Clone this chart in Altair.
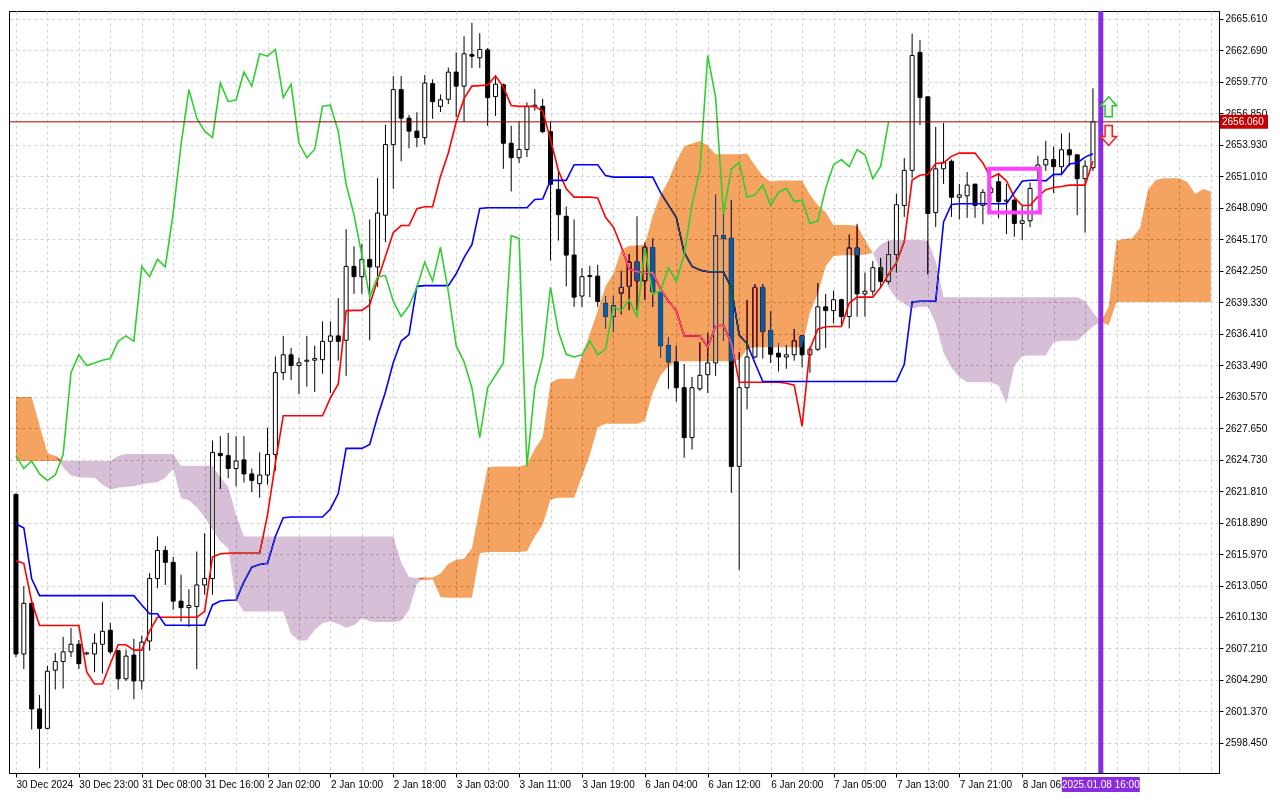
import json
import altair as alt
import pandas as pd

FONT = "Liberation Sans"

# ---------------- data ----------------
opens = [2621.5, 2606.7, 2611.4, 2601.6, 2599.8, 2605.2, 2606.0, 2606.9, 2607.6, 2606.7,
         2606.7, 2607.6, 2608.9, 2607.0, 2604.4, 2606.6, 2604.2, 2607.9, 2613.7, 2616.3,
         2615.2, 2611.6, 2611.0, 2611.1, 2613.1, 2613.7, 2625.3, 2625.1, 2623.9, 2624.7,
         2623.4, 2622.5, 2623.3, 2625.2, 2632.8, 2634.45, 2633.45, 2633.85, 2633.95, 2634.0,
         2635.7, 2636.2, 2635.8, 2642.65, 2641.7, 2643.3, 2642.6, 2647.4, 2653.95, 2659.05,
         2656.4, 2655.2, 2654.6, 2659.6, 2657.5, 2658.15, 2660.67, 2659.37, 2662.3, 2662.0,
         2662.73, 2658.4, 2659.5, 2654.07, 2652.73, 2653.5, 2657.5, 2657.5, 2655.15, 2649.8,
         2647.3, 2643.7, 2639.9, 2641.7, 2641.75, 2639.2, 2638.0, 2640.17, 2640.8, 2643.1,
         2641.3, 2644.4, 2640.3, 2635.3, 2633.8, 2631.4, 2626.77, 2631.3, 2632.6, 2633.7,
         2645.5, 2645.25, 2624.1, 2631.4, 2634.25, 2640.7, 2636.7, 2634.6, 2634.25, 2634.45,
         2636.2, 2634.45, 2634.96, 2638.9, 2638.55, 2639.56, 2638.0, 2644.36, 2640.1, 2640.35,
         2642.53, 2641.26, 2643.75, 2648.3, 2651.56, 2662.5, 2658.38, 2647.64, 2651.7, 2652.4,
         2649.06, 2649.2, 2650.28, 2648.31, 2649.5, 2650.5, 2648.7, 2648.8, 2646.64, 2646.88,
         2651.6, 2652.06, 2652.56, 2651.9, 2653.47, 2653.0, 2650.79, 2651.8]
highs = [2621.6, 2613.0, 2611.6, 2602.9, 2605.6, 2606.8, 2608.3, 2609.1, 2608.0, 2606.9,
         2608.6, 2611.5, 2609.6, 2607.1, 2607.1, 2608.1, 2608.4, 2614.2, 2617.6, 2616.7,
         2615.7, 2614.05, 2612.7, 2616.2, 2617.9, 2626.5, 2626.9, 2627.2, 2626.9, 2626.9,
         2623.9, 2625.4, 2627.7, 2634.3, 2636.2, 2635.1, 2634.2, 2636.2, 2635.3, 2637.55,
         2637.55, 2639.7, 2646.1, 2644.5, 2644.75, 2647.0, 2650.85, 2655.8, 2660.3, 2660.3,
         2656.7, 2656.95, 2660.4, 2660.0, 2658.6, 2661.1, 2662.5, 2664.0, 2665.25, 2664.28,
         2662.9, 2660.4, 2659.6, 2655.7, 2656.05, 2657.87, 2659.1, 2658.2, 2656.05, 2651.5,
         2648.2, 2647.0, 2642.5, 2642.7, 2642.8, 2639.9, 2639.9, 2642.25, 2643.8, 2647.3,
         2644.9, 2645.25, 2640.5, 2636.1, 2635.3, 2633.6, 2632.4, 2635.6, 2636.5, 2649.3,
         2647.5, 2648.8, 2634.7, 2639.55, 2641.0, 2641.0, 2638.5, 2635.5, 2635.35, 2636.85,
         2636.25, 2635.2, 2641.1, 2640.1, 2640.4, 2639.65, 2645.6, 2646.6, 2642.08, 2643.14,
         2643.44, 2644.96, 2649.37, 2652.7, 2664.24, 2663.63, 2658.4, 2655.6, 2655.95, 2652.56,
         2650.3, 2651.4, 2650.3, 2649.83, 2650.3, 2651.3, 2650.3, 2648.9, 2648.3, 2650.43,
         2652.92, 2654.3, 2653.77, 2654.98, 2655.05, 2653.0, 2652.5, 2659.17]
lows = [2606.4, 2605.3, 2599.7, 2596.1, 2599.7, 2603.4, 2603.5, 2606.4, 2605.3, 2606.6,
        2605.0, 2604.9, 2606.7, 2603.4, 2604.2, 2602.5, 2603.4, 2607.0, 2612.8, 2613.1,
        2610.8, 2609.7, 2609.2, 2605.3, 2612.2, 2612.2, 2622.0, 2623.0, 2622.25, 2622.6,
        2621.7, 2621.2, 2622.4, 2623.7, 2632.1, 2632.1, 2630.8, 2631.5, 2631.0, 2632.7,
        2630.9, 2633.9, 2632.5, 2640.1, 2640.1, 2635.8, 2640.75, 2644.9, 2649.85, 2652.4,
        2653.6, 2653.7, 2653.95, 2656.34, 2656.96, 2657.7, 2656.5, 2656.05, 2661.05, 2661.05,
        2655.7, 2656.6, 2651.7, 2649.6, 2652.25, 2652.8, 2657.1, 2655.0, 2643.2, 2645.04,
        2640.8, 2638.9, 2638.9, 2639.8, 2638.9, 2636.9, 2636.55, 2638.2, 2638.6, 2638.6,
        2639.55, 2638.9, 2634.2, 2631.3, 2630.1, 2624.9, 2625.66, 2631.1, 2630.9, 2632.5,
        2635.75, 2621.65, 2614.5, 2629.4, 2634.1, 2634.1, 2633.7, 2632.9, 2633.15, 2633.9,
        2633.3, 2632.8, 2634.8, 2635.1, 2637.37, 2637.2, 2636.9, 2637.98, 2637.98, 2639.95,
        2640.7, 2641.0, 2642.08, 2647.24, 2650.88, 2655.75, 2641.9, 2646.3, 2650.3, 2647.24,
        2647.0, 2647.15, 2647.15, 2646.55, 2648.6, 2647.1, 2645.64, 2645.4, 2645.1, 2646.3,
        2650.74, 2651.5, 2649.46, 2651.2, 2651.95, 2647.4, 2645.78, 2651.5]
closes = [2606.7, 2611.4, 2601.6, 2599.8, 2605.1, 2606.0, 2606.9, 2607.6, 2605.8, 2606.8,
          2607.7, 2608.8, 2606.9, 2604.4, 2606.5, 2604.2, 2607.8, 2613.7, 2616.3, 2615.2,
          2611.6, 2611.0, 2611.2, 2613.1, 2613.7, 2625.4, 2625.1, 2623.9, 2624.6, 2623.4,
          2622.8, 2623.3, 2625.2, 2632.8, 2634.45, 2633.45, 2633.7, 2633.95, 2634.1, 2635.7,
          2636.2, 2635.7, 2642.65, 2641.7, 2643.3, 2642.6, 2647.6, 2653.95, 2659.05, 2656.4,
          2655.2, 2654.6, 2659.66, 2657.93, 2658.1, 2660.67, 2659.37, 2662.37, 2662.15, 2662.77,
          2658.3, 2659.55, 2654.07, 2652.73, 2653.5, 2657.5, 2657.6, 2655.15, 2650.27, 2647.45,
          2643.7, 2639.8, 2641.7, 2641.8, 2639.4, 2638.0, 2639.0, 2640.7, 2643.05, 2641.3,
          2644.43, 2640.3, 2635.3, 2633.8, 2631.4, 2626.77, 2631.4, 2632.55, 2633.7, 2645.5,
          2645.25, 2624.1, 2631.4, 2634.25, 2640.7, 2636.6, 2634.5, 2634.25, 2634.45, 2635.75,
          2634.45, 2634.96, 2638.9, 2638.55, 2639.56, 2638.0, 2644.36, 2640.1, 2640.35, 2642.53,
          2641.26, 2643.75, 2648.37, 2651.56, 2662.21, 2658.32, 2647.55, 2651.7, 2652.3, 2649.06,
          2649.28, 2650.19, 2648.31, 2649.52, 2649.9, 2648.67, 2648.8, 2646.64, 2646.88, 2649.88,
          2652.06, 2652.56, 2651.9, 2653.47, 2653.0, 2650.79, 2651.95, 2656.06]

tenkan = [2615.35, 2615.11, 2611.56, 2609.34, 2609.34, 2609.34, 2609.34, 2609.34, 2609.34, 2605.03,
          2603.91, 2603.91, 2605.79, 2607.55, 2607.55, 2607.06, 2607.06, 2608.83, 2610.1, 2610.1,
          2610.1, 2610.1, 2610.1, 2610.1, 2610.65, 2615.7, 2616.0, 2616.05, 2616.05, 2616.05,
          2616.05, 2616.05, 2619.6, 2624.4, 2628.8, 2628.8, 2628.8, 2628.8, 2628.8, 2628.8,
          2630.45, 2631.75, 2638.55, 2638.57, 2638.57, 2639.1, 2641.38, 2643.56, 2645.79, 2646.44,
          2646.44, 2648.0, 2648.18, 2648.18, 2651.0, 2653.17, 2656.05, 2658.21, 2659.37, 2659.42,
          2659.48, 2660.31, 2659.3, 2657.57, 2657.49, 2657.49, 2657.49, 2657.06, 2654.42, 2651.53,
          2649.85, 2649.08, 2649.08, 2649.08, 2649.0, 2647.21, 2646.3, 2644.49, 2642.4, 2642.15,
          2642.1, 2642.05, 2640.56, 2639.41, 2638.55, 2636.2, 2636.2, 2636.2, 2635.16, 2637.14,
          2637.19, 2635.55, 2631.9, 2631.9, 2631.9, 2631.9, 2631.9, 2631.9, 2631.81, 2631.63,
          2627.84, 2635.0, 2636.82, 2637.05, 2637.07, 2637.07, 2639.25, 2639.8, 2639.8, 2639.8,
          2640.71, 2641.92, 2642.99, 2644.96, 2650.67, 2651.1, 2651.19, 2652.19, 2652.25, 2652.86,
          2653.16, 2653.16, 2653.16, 2652.25, 2650.88, 2651.24, 2650.58, 2649.06, 2648.3, 2648.3,
          2649.12, 2649.76, 2649.97, 2650.06, 2650.19, 2650.19, 2650.19, 2652.4]

kijun = [2618.78, 2618.39, 2613.68, 2612.11, 2612.11, 2612.11, 2612.11, 2612.11, 2612.11, 2612.11,
         2612.11, 2612.11, 2612.11, 2612.11, 2612.11, 2612.11, 2611.25, 2610.43, 2610.43, 2609.37,
         2609.37, 2609.37, 2609.37, 2609.37, 2609.37, 2611.25, 2611.62, 2611.68, 2611.71, 2613.38,
         2614.75, 2615.0, 2615.11, 2617.6, 2619.33, 2619.4, 2619.4, 2619.4, 2619.4, 2619.4,
         2620.15, 2621.58, 2625.77, 2625.77, 2625.77, 2626.14, 2628.72, 2631.0, 2633.73, 2635.73,
         2636.32, 2640.8, 2640.87, 2640.87, 2640.87, 2640.87, 2641.97, 2643.47, 2644.66, 2648.03,
         2648.09, 2648.09, 2648.09, 2648.09, 2648.09, 2648.09, 2648.85, 2648.9, 2650.63, 2650.63,
         2650.63, 2652.08, 2652.08, 2652.08, 2652.08, 2651.07, 2650.93, 2650.93, 2650.93, 2650.93,
         2650.93, 2650.93, 2649.5, 2648.34, 2647.21, 2643.94, 2642.65, 2642.32, 2642.15, 2642.15,
         2642.15, 2640.68, 2636.29, 2635.48, 2633.69, 2631.97, 2631.97, 2631.97, 2631.97, 2631.97,
         2631.97, 2631.97, 2631.97, 2631.97, 2631.97, 2631.97, 2631.97, 2631.97, 2631.97, 2631.97,
         2631.97, 2631.97, 2631.97, 2633.57, 2639.35, 2639.42, 2639.42, 2639.44, 2646.78, 2648.39,
         2648.46, 2648.46, 2648.46, 2648.46, 2648.46, 2648.46, 2648.46, 2649.51, 2650.55, 2650.64,
         2650.64, 2650.58, 2651.19, 2651.19, 2652.15, 2652.25, 2652.79, 2653.1]

chikou = [2625.1, 2623.9, 2624.6, 2623.4, 2622.8, 2623.3, 2625.2, 2632.8, 2634.45, 2633.45,
          2633.7, 2633.95, 2634.1, 2635.7, 2636.2, 2635.7, 2642.65, 2641.7, 2643.3, 2642.6,
          2647.6, 2653.95, 2659.05, 2656.4, 2655.2, 2654.6, 2659.66, 2657.93, 2658.1, 2660.67,
          2659.37, 2662.37, 2662.15, 2662.77, 2658.3, 2659.55, 2654.07, 2652.73, 2653.5, 2657.5,
          2657.6, 2655.15, 2650.27, 2647.45, 2643.7, 2639.8, 2641.7, 2641.8, 2639.4, 2638.0,
          2639.0, 2640.7, 2643.05, 2641.3, 2644.43, 2640.3, 2635.3, 2633.8, 2631.4, 2626.77,
          2631.4, 2632.55, 2633.7, 2645.5, 2645.25, 2624.1, 2631.4, 2634.25, 2640.7, 2636.6,
          2634.5, 2634.25, 2634.45, 2635.75, 2634.45, 2634.96, 2638.9, 2638.55, 2639.56, 2638.0,
          2644.36, 2640.1, 2640.35, 2642.53, 2641.26, 2643.75, 2648.37, 2651.56, 2662.21, 2658.32,
          2647.55, 2651.7, 2652.3, 2649.06, 2649.28, 2650.19, 2648.31, 2649.52, 2649.9, 2648.67,
          2648.8, 2646.64, 2646.88, 2649.88, 2652.06, 2652.56, 2651.9, 2653.47, 2653.0, 2650.79,
          2651.95, 2656.06]

span_a = [2630.54, 2630.54, 2630.54, 2627.9, 2625.35, 2625.07, 2624.0, 2623.25, 2623.07, 2623.07,
          2623.05, 2622.43, 2621.95, 2622.13, 2622.2, 2622.25, 2622.43, 2622.55, 2622.64, 2623.05,
          2623.9, 2621.15, 2620.97, 2620.3, 2619.4, 2618.25, 2617.1, 2616.5, 2611.7, 2610.65,
          2610.65, 2610.65, 2610.65, 2610.65, 2610.65, 2608.52, 2607.92, 2607.97, 2608.92, 2609.58,
          2609.74, 2609.49, 2609.13, 2609.37, 2610.04, 2609.74, 2609.67, 2609.67, 2609.67, 2609.79,
          2610.79, 2613.2, 2613.8, 2613.8, 2614.17, 2615.07, 2615.43, 2615.54, 2616.5, 2620.3,
          2624.0, 2624.09, 2624.09, 2624.09, 2624.09, 2624.28, 2625.72, 2626.8, 2631.86, 2632.22,
          2632.22, 2632.22, 2634.39, 2636.37, 2638.53, 2640.8, 2641.97, 2644.14, 2644.57, 2644.59,
          2644.66, 2647.35, 2649.3, 2650.6, 2652.4, 2653.77, 2654.04, 2654.29, 2653.86, 2653.05,
          2653.05, 2653.05, 2653.05, 2653.13, 2652.0, 2651.03, 2650.5, 2650.62, 2650.62, 2650.62,
          2650.62, 2649.3, 2648.34, 2647.68, 2646.48, 2646.48, 2646.48, 2646.43, 2645.1, 2643.9,
          2642.22, 2640.7, 2639.65, 2639.19, 2638.73, 2638.9, 2638.9, 2637.37, 2634.64, 2633.27,
          2632.36, 2631.9, 2631.9, 2631.9, 2631.9, 2631.6, 2629.93, 2633.43, 2634.33, 2634.39,
          2634.39, 2634.39, 2635.61, 2635.76, 2635.76, 2635.76, 2636.4, 2637.07, 2637.5, 2638.89,
          2645.02, 2645.2, 2645.27, 2646.18, 2649.76, 2650.67, 2650.82, 2650.82, 2650.82, 2650.49,
          2649.37, 2649.82, 2649.6]

span_b = [2624.6, 2624.6, 2624.6, 2624.6, 2624.6, 2624.6, 2624.61, 2624.61, 2624.61, 2624.61,
          2624.61, 2624.61, 2624.61, 2625.07, 2625.25, 2625.25, 2625.25, 2625.25, 2625.25, 2625.25,
          2625.25, 2624.15, 2624.15, 2624.15, 2624.15, 2624.15, 2623.1, 2622.2, 2619.6, 2617.6,
          2617.6, 2617.6, 2617.6, 2617.6, 2617.6, 2617.6, 2617.6, 2617.6, 2617.6, 2617.6,
          2617.6, 2617.6, 2617.6, 2617.6, 2617.6, 2617.6, 2617.6, 2617.6, 2617.6, 2615.2,
          2613.84, 2613.75, 2613.52, 2613.62, 2611.99, 2611.92, 2611.92, 2611.92, 2611.92, 2616.05,
          2616.15, 2616.15, 2616.15, 2616.15, 2616.15, 2616.23, 2617.6, 2618.68, 2621.02, 2621.2,
          2621.2, 2621.2, 2623.19, 2625.18, 2627.7, 2628.05, 2628.05, 2628.05, 2628.05, 2628.05,
          2628.3, 2630.93, 2632.55, 2633.36, 2633.85, 2633.85, 2633.85, 2633.85, 2633.85, 2633.85,
          2633.85, 2633.85, 2634.0, 2635.0, 2635.15, 2635.15, 2635.15, 2635.15, 2635.15, 2635.15,
          2635.15, 2638.4, 2640.1, 2642.65, 2643.6, 2643.68, 2643.68, 2643.68, 2643.75, 2643.9,
          2644.66, 2645.11, 2645.11, 2645.11, 2645.11, 2645.11, 2645.02, 2643.13, 2639.8, 2639.8,
          2639.8, 2639.8, 2639.8, 2639.8, 2639.8, 2639.8, 2639.8, 2639.8, 2639.8, 2639.8,
          2639.8, 2639.8, 2639.8, 2639.8, 2639.8, 2639.8, 2639.44, 2638.43, 2637.5, 2637.2,
          2639.35, 2639.35, 2639.35, 2639.35, 2639.35, 2639.35, 2639.35, 2639.35, 2639.35, 2639.35,
          2639.35, 2639.35, 2639.35]

x_labels = ["30 Dec 2024", "30 Dec 23:00", "31 Dec 08:00", "31 Dec 16:00", "2 Jan 02:00",
            "2 Jan 10:00", "2 Jan 18:00", "3 Jan 03:00", "3 Jan 11:00", "3 Jan 19:00",
            "6 Jan 04:00", "6 Jan 12:00", "6 Jan 20:00", "7 Jan 05:00", "7 Jan 13:00",
            "7 Jan 21:00", "8 Jan 06:00"]
y_ticks = [2598.450, 2601.370, 2604.290, 2607.210, 2610.130, 2613.050, 2615.970, 2618.890,
           2621.810, 2624.730, 2627.650, 2630.570, 2633.490, 2636.410, 2639.330, 2642.250,
           2645.170, 2648.090, 2651.010, 2653.930, 2656.850, 2659.770, 2662.690, 2665.610]

last_price = [{"price": 2656.06, "label": "2656.060"}]
cursor = [{"bar": 138, "label": "2025.01.08 16:00"}]
box = [{"x0": 123.8, "x1": 130.25, "top": 2651.7, "bottom": 2647.64}]
arrow_up = [{"bar": 139, "price": 2657.45}]
arrow_down = [{"bar": 139, "price": 2654.8}]

# ---------------- layout ----------------
W, H = 1210, 762
xs = alt.Scale(domain=[-0.25, 152.4], nice=False, zero=False)
ys = alt.Scale(domain=[2595.66, 2666.34], nice=False, zero=False)

tick_test = "datum.value % 8 === 0 && datum.value <= 128"
xaxis = alt.Axis(
    values=list(range(0, 153, 4)),
    labelExpr=f"{tick_test} ? {json.dumps(x_labels)}[datum.value / 8] : ''",
    grid=True, gridColor="#d2d2d2", gridDash=[3, 3], gridWidth=1,
    tickColor="black", tickSize=4,
    tickOpacity={"condition": {"test": tick_test, "value": 1}, "value": 0},
    labelAlign="left", labelBaseline="top", labelPadding=2, labelFont=FONT,
    labelFontSize=10, labelColor="black", labelFlush=False, labelOverlap=False,
    domainColor="black", title=None, orient="bottom")
yaxis = alt.Axis(
    values=y_ticks, format=".3f", orient="right",
    grid=True, gridColor="#d2d2d2", gridDash=[3, 3], gridWidth=1,
    tickColor="black", tickSize=4, labelPadding=2, labelFont=FONT,
    labelFontSize=10, labelColor="black", labelFlush=False, labelOverlap=False,
    domainColor="black", title=None)


def X(field="bar"):
    return alt.X(f"{field}:Q", scale=xs, axis=xaxis, title=None)


def Y(field):
    return alt.Y(f"{field}:Q", scale=ys, axis=yaxis, title=None)


candles = pd.DataFrame({"bar": list(range(len(opens))), "open": opens, "high": highs,
                        "low": lows, "close": closes})
lines = pd.DataFrame({"bar": list(range(len(tenkan))), "tenkan": tenkan, "kijun": kijun})
lag = pd.DataFrame({"bar": list(range(len(chikou))), "chikou": chikou})
cloud = pd.DataFrame({"bar": list(range(len(span_a))), "a": span_a, "b": span_b})
cloud["o_top"] = cloud["a"].where(cloud["a"] >= cloud["b"], cloud["b"])
cloud["o_bot"] = cloud["b"]
cloud["l_top"] = cloud["b"].where(cloud["b"] > cloud["a"], cloud["a"])
cloud["l_bot"] = cloud["a"]

base_c = alt.Chart(candles)
wicks = base_c.mark_rule(color="black", strokeWidth=1).encode(
    x=X(), y=Y("low"), y2="high")
bodies = base_c.mark_bar(size=4, stroke="black", strokeWidth=1).encode(
    x=X(), y=Y("open"), y2="close",
    fill=alt.condition("datum.close >= datum.open", alt.value("white"), alt.value("black")))

tenkan_l = alt.Chart(lines).mark_line(color="#ff0000", strokeWidth=1.6).encode(
    x=X(), y=Y("tenkan"))
kijun_l = alt.Chart(lines).mark_line(color="#0000ff", strokeWidth=1.6).encode(
    x=X(), y=Y("kijun"))

# clouds are painted as a colour difference over what lies beneath them (white -> sandy brown / thistle)
orange = alt.Chart(cloud).mark_area(color="#0b5b9f", blend="difference").encode(
    x=X(), y=Y("o_top"), y2="o_bot")
lavender = alt.Chart(cloud).mark_area(color="#274027", blend="difference").encode(
    x=X(), y=Y("l_top"), y2="l_bot")

chikou_l = alt.Chart(lag).mark_line(color="#32cd32", strokeWidth=1.6).encode(
    x=X(), y=Y("chikou"))

price_df = pd.DataFrame(last_price)
price_line = alt.Chart(price_df).mark_rule(color="#a00000", strokeWidth=1).encode(y=Y("price"))
price_box = alt.Chart(price_df).mark_tick(orient="horizontal", size=48, thickness=14,
                                          color="#c40000", opacity=1).encode(
    x=alt.value(W + 25), y=Y("price"))
price_txt = alt.Chart(price_df).mark_text(align="left", baseline="middle", color="white",
                                          font=FONT, fontSize=10).encode(
    x=alt.value(W + 3), y=Y("price"), text="label:N")

cur_df = pd.DataFrame(cursor)
cursor_line = alt.Chart(cur_df).mark_rule(color="#8a2be2", strokeWidth=5).encode(x=X())
cursor_box = alt.Chart(cur_df).mark_tick(orient="horizontal", size=78, thickness=15,
                                         color="#8a2be2", opacity=1).encode(
    x=X(), y=alt.value(H + 11.5))
cursor_txt = alt.Chart(cur_df).mark_text(align="center", baseline="middle", color="white",
                                         font=FONT, fontSize=10).encode(
    x=X(), y=alt.value(H + 11.5), text="label:N")

box_r = alt.Chart(pd.DataFrame(box)).mark_rect(fillOpacity=0, stroke="#ff40ff",
                                               strokeWidth=4).encode(
    x=X("x0"), x2="x1", y=Y("top"), y2="bottom")

ARROW = "M0,-1L0.8,-0.12L0.36,-0.12L0.36,1L-0.36,1L-0.36,-0.12L-0.8,-0.12Z"
up = alt.Chart(pd.DataFrame(arrow_up)).mark_point(
    shape=ARROW, size=400, filled=True, fill="#f4fff4", stroke="#2fbf3a", strokeWidth=1.5,
    opacity=1).encode(x=X(), y=Y("price"))
down = alt.Chart(pd.DataFrame(arrow_down)).mark_point(
    shape=ARROW, size=400, angle=180, filled=True, fill="#fff0f0", stroke="#ee2020",
    strokeWidth=1.5, opacity=1).encode(x=X(), y=Y("price"))

chart = alt.layer(
    wicks, bodies, tenkan_l, kijun_l, orange, lavender, chikou_l,
    price_line, cursor_line, box_r, up, down,
    price_box, price_txt, cursor_box, cursor_txt
).properties(width=W, height=H, padding=0, background="white").configure_view(
    stroke="black", strokeWidth=1, fill="white")

chart.save("out.html", embed_options={"renderer": "svg", "actions": False})
